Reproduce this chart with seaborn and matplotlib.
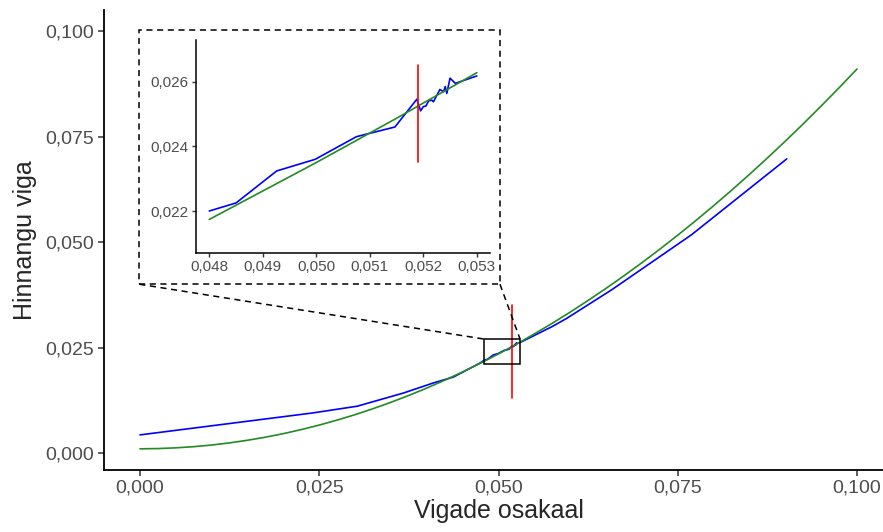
import pandas as pd
import seaborn as sns
import matplotlib.pyplot as plt
from matplotlib.patches import Rectangle
from matplotlib.ticker import FuncFormatter


# hinnangu viga vs vigade osakaal (loetud pildilt)
green_x = [0.0000, 0.0025, 0.0050, 0.0075, 0.0100, 0.0125, 0.0150, 0.0175, 0.0200,
           0.0225, 0.0250, 0.0275, 0.0300, 0.0325, 0.0350, 0.0375, 0.0400, 0.0425,
           0.0450, 0.0480, 0.0500, 0.0515, 0.0530, 0.0550, 0.0575, 0.0600, 0.0625,
           0.0650, 0.0675, 0.0700, 0.0725, 0.0750, 0.0775, 0.0800, 0.0825, 0.0850,
           0.0875, 0.0900, 0.0925, 0.0950, 0.0975, 0.1000]
green_y = [0.00100, 0.00106, 0.00123, 0.00151, 0.00190, 0.00241, 0.00303, 0.00376,
           0.00460, 0.00556, 0.00663, 0.00781, 0.00910, 0.01051, 0.01203, 0.01366,
           0.01540, 0.01726, 0.01923, 0.02174, 0.02350, 0.02487, 0.02628, 0.02823,
           0.03076, 0.03340, 0.03616, 0.03903, 0.04201, 0.04510, 0.04831, 0.05163,
           0.05506, 0.05860, 0.06226, 0.06603, 0.06991, 0.07390, 0.07801, 0.08223,
           0.08656, 0.09100]

blue_x = [0.0000, 0.0241, 0.0303, 0.0367, 0.0409, 0.0437, 0.0474, 0.0480, 0.0485,
          0.04926, 0.04998, 0.05075, 0.05147, 0.05188, 0.05195, 0.05200, 0.05205,
          0.05210, 0.05216, 0.05219, 0.05231, 0.05238, 0.05241, 0.05244, 0.05250,
          0.05260, 0.05300, 0.0574, 0.0595, 0.0658, 0.0769, 0.0902]
blue_y = [0.0043, 0.0095, 0.0111, 0.0142, 0.0166, 0.0180, 0.0213, 0.0220, 0.02225,
          0.02324, 0.0236, 0.0243, 0.0246, 0.02546, 0.02510, 0.02523, 0.02525,
          0.02541, 0.02543, 0.02538, 0.02576, 0.02569, 0.02585, 0.02564, 0.02611,
          0.02595, 0.02618, 0.0299, 0.0319, 0.0387, 0.0517, 0.0697]

red_x = [0.0519, 0.0519]
red_y_main = [0.0130, 0.0351]
red_y_inset = [0.02353, 0.02652]

zoom_x = [0.048, 0.053]
zoom_y = [0.021, 0.027]

main_ticks = [0.000, 0.025, 0.050, 0.075, 0.100]
inset_xticks = [0.048, 0.049, 0.050, 0.051, 0.052, 0.053]
inset_yticks = [0.022, 0.024, 0.026]

df_green = pd.DataFrame({"x": green_x, "y": green_y})
df_blue = pd.DataFrame({"x": blue_x, "y": blue_y})

sns.set_style("ticks")
plt.rcParams["font.family"] = ["Liberation Sans", "DejaVu Sans"]

komaga = FuncFormatter(lambda v, p: f"{v:.3f}".replace(".", ","))

fig = plt.figure(figsize=(8.83, 5.32), dpi=100)
ax = fig.add_axes([0.1180, 0.1167, 0.8932, 0.8647])

sns.lineplot(data=df_blue, x="x", y="y", color="blue", lw=1.2, estimator=None, ax=ax)
sns.lineplot(data=df_green, x="x", y="y", color="forestgreen", lw=1.2, estimator=None, ax=ax)
sns.lineplot(x=red_x, y=red_y_main, color="red", lw=1.2, estimator=None, sort=False, ax=ax)

ax.set_xlim(-0.005, 0.105)
ax.set_ylim(-0.004, 0.105)
ax.set_xticks(main_ticks)
ax.set_yticks(main_ticks)
ax.xaxis.set_major_formatter(komaga)
ax.yaxis.set_major_formatter(komaga)
ax.set_xlabel("Vigade osakaal", fontsize=18, labelpad=2)
ax.set_ylabel("Hinnangu viga", fontsize=18, labelpad=6)
ax.tick_params(labelsize=14, labelcolor="#4D4D4D", color="#333333", length=4, width=1.1, pad=3)
sns.despine(ax=ax)
for s in ["left", "bottom"]:
    ax.spines[s].set_linewidth(1.3)
    ax.spines[s].set_color("black")

# suurendatud ala ja raam
ax.add_patch(Rectangle((zoom_x[0], zoom_y[0]), zoom_x[1] - zoom_x[0], zoom_y[1] - zoom_y[0],
                       fill=False, ec="black", lw=1.1, zorder=5))
ax.add_patch(Rectangle((-0.0001, 0.040), 0.0503, 0.0602, fill=False, ec="black",
                       lw=1.1, ls=(0, (4, 3)), zorder=5))
ax.plot([-0.0001, zoom_x[0]], [0.040, zoom_y[1]], color="black", lw=1.1, ls=(0, (4, 3)))
ax.plot([0.0502, zoom_x[1]], [0.040, zoom_y[1]], color="black", lw=1.1, ls=(0, (4, 3)))

# väike graafik
ins = fig.add_axes([0.2219, 0.5244, 0.3332, 0.4009])
ins.set_facecolor("white")
g_in = df_green[(df_green.x >= zoom_x[0]) & (df_green.x <= zoom_x[1])]
b_in = df_blue[(df_blue.x >= zoom_x[0]) & (df_blue.x <= zoom_x[1])]
sns.lineplot(data=b_in, x="x", y="y", color="blue", lw=1.2, estimator=None, ax=ins)
sns.lineplot(data=g_in, x="x", y="y", color="forestgreen", lw=1.2, estimator=None, ax=ins)
sns.lineplot(x=red_x, y=red_y_inset, color="red", lw=1.2, estimator=None, sort=False, ax=ins)
ins.set_xlim(0.04775, 0.05325)
ins.set_ylim(0.0207, 0.0273)
ins.set_xticks(inset_xticks)
ins.set_yticks(inset_yticks)
ins.xaxis.set_major_formatter(komaga)
ins.yaxis.set_major_formatter(komaga)
ins.set_xlabel("")
ins.set_ylabel("")
ins.tick_params(labelsize=11, labelcolor="#4D4D4D", color="#333333", length=3, width=1, pad=2)
sns.despine(ax=ins)
for s in ["left", "bottom"]:
    ins.spines[s].set_linewidth(1.1)
    ins.spines[s].set_color("black")

plt.savefig("out.png", dpi=100)
